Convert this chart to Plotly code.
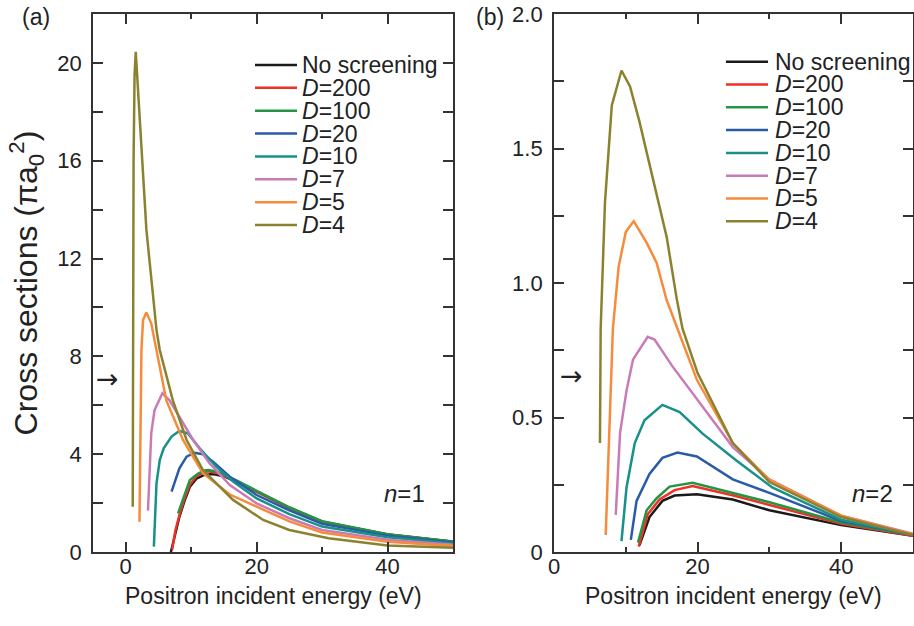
import plotly.graph_objects as go

W, H = 914, 626

labels = ["No screening", "<i>D</i>=200", "<i>D</i>=100", "<i>D</i>=20",
          "<i>D</i>=10", "<i>D</i>=7", "<i>D</i>=5", "<i>D</i>=4"]
colors = ["#1a1a1a", "#ee3124", "#259445", "#2b5ba8",
          "#17918a", "#c97bb8", "#f68b3c", "#8b8230"]

# ---------------- n = 1 (panel a) ----------------
e1_ns = [6.9, 7.6, 8.2, 9.0, 9.8, 10.8, 12.0, 13.3, 15.0, 17.0, 20, 25, 30, 40, 50]
s1_ns = [0.0, 0.75, 1.44, 2.1, 2.67, 3.0, 3.15, 3.19, 3.1, 2.85, 2.47, 1.8, 1.24, 0.72, 0.42]
e1_200 = [7.1, 7.6, 8.3, 9.0, 9.8, 10.8, 12.0, 12.6, 14.0, 15.0, 17.0, 20, 25, 30, 40, 50]
s1_200 = [0.1, 0.9, 1.6, 2.2, 2.75, 3.1, 3.28, 3.3, 3.22, 3.12, 2.88, 2.47, 1.8, 1.24, 0.72, 0.42]
e1_100 = [8.0, 8.5, 9.2, 9.8, 11.0, 12.0, 12.6, 14.0, 15.0, 17.0, 20, 25, 30, 40, 50]
s1_100 = [1.58, 2.0, 2.5, 2.94, 3.2, 3.33, 3.35, 3.28, 3.17, 2.92, 2.5, 1.83, 1.26, 0.73, 0.43]
e1_20 = [7.0, 8.2, 9.3, 10.5, 11.8, 13.3, 15.9, 20, 25, 30, 40, 50]
s1_20 = [2.47, 3.42, 3.9, 4.06, 4.0, 3.7, 3.08, 2.33, 1.7, 1.15, 0.67, 0.39]
e1_10 = [4.3, 4.7, 5.2, 5.8, 7.0, 8.2, 9.5, 11.3, 13.8, 16.4, 20, 25, 30, 40, 50]
s1_10 = [0.22, 2.8, 3.76, 4.24, 4.72, 4.95, 4.85, 4.24, 3.49, 2.88, 2.19, 1.55, 1.04, 0.6, 0.35]
e1_7 = [3.4, 3.56, 3.9, 4.4, 5.6, 6.7, 8.2, 10.3, 12.8, 15.9, 20, 25, 30, 40, 50]
s1_7 = [1.69, 2.8, 4.85, 5.8, 6.49, 6.2, 5.53, 4.58, 3.63, 2.74, 1.99, 1.38, 0.9, 0.5, 0.3]
e1_5 = [2.1, 2.3, 2.4, 2.65, 3.15, 3.9, 4.7, 6.2, 8.75, 11.8, 15.9, 20, 25, 30, 40, 50]
s1_5 = [1.24, 6.2, 8.26, 9.49, 9.79, 9.35, 8.26, 6.2, 4.58, 3.22, 2.35, 1.85, 1.25, 0.8, 0.42, 0.25]
e1_4 = [1.07, 1.1, 1.2, 1.35, 1.53, 3.16, 4.7, 5.2, 7.2, 9.3, 11.8, 16.4, 21, 25, 31, 40, 50]
s1_4 = [1.85, 10.0, 16.0, 19.5, 20.45, 13.17, 9.08, 8.26, 6.2, 4.58, 3.35, 2.13, 1.31, 0.9, 0.56, 0.27, 0.17]

# ---------------- n = 2 (panel b) ----------------
e2_ns = [11.9, 13.3, 15.1, 16.8, 19.9, 24.9, 30, 40, 50]
s2_ns = [0.025, 0.13, 0.19, 0.21, 0.215, 0.195, 0.155, 0.1, 0.06]
e2_200 = [11.8, 13.05, 14.7, 16.8, 19.3, 25, 30, 40, 50]
s2_200 = [0.02, 0.14, 0.195, 0.23, 0.245, 0.21, 0.175, 0.105, 0.06]
e2_100 = [11.7, 12.9, 14.3, 16.1, 19.3, 24.9, 30, 40, 50]
s2_100 = [0.035, 0.155, 0.2, 0.243, 0.257, 0.22, 0.185, 0.11, 0.063]
e2_20 = [10.7, 11.5, 13.3, 15.1, 17.2, 19.9, 24.9, 30, 40, 50]
s2_20 = [0.045, 0.19, 0.29, 0.35, 0.37, 0.355, 0.27, 0.22, 0.115, 0.065]
e2_10 = [9.4, 10.1, 11.25, 12.6, 15.1, 17.5, 20.7, 25.4, 30.4, 40, 50]
s2_10 = [0.04, 0.24, 0.405, 0.49, 0.547, 0.52, 0.44, 0.34, 0.24, 0.12, 0.065]
e2_7 = [8.6, 9.2, 10.1, 11.0, 13.05, 14.0, 16.5, 20.3, 24.9, 30, 40, 50]
s2_7 = [0.138, 0.443, 0.6, 0.715, 0.8, 0.79, 0.69, 0.555, 0.39, 0.27, 0.135, 0.068]
e2_5 = [7.2, 8.2, 9.0, 10.0, 11.1, 12.9, 14.3, 15.65, 17.2, 19.9, 24.9, 30, 40, 50]
s2_5 = [0.063, 0.83, 1.06, 1.19, 1.23, 1.15, 1.075, 0.94, 0.83, 0.64, 0.405, 0.268, 0.135, 0.065]
e2_4 = [6.4, 6.5, 7.1, 8.05, 9.4, 10.6, 11.9, 13.75, 15.7, 17.1, 17.9, 20, 24.9, 30, 40, 50]
s2_4 = [0.405, 0.83, 1.30, 1.66, 1.79, 1.73, 1.6, 1.39, 1.17, 0.94, 0.83, 0.665, 0.405, 0.26, 0.13, 0.063]

panel1 = [(e1_ns, s1_ns), (e1_200, s1_200), (e1_100, s1_100), (e1_20, s1_20),
          (e1_10, s1_10), (e1_7, s1_7), (e1_5, s1_5), (e1_4, s1_4)]
panel2 = [(e2_ns, s2_ns), (e2_200, s2_200), (e2_100, s2_100), (e2_20, s2_20),
          (e2_10, s2_10), (e2_7, s2_7), (e2_5, s2_5), (e2_4, s2_4)]

# y ticks
y1_ticks = [0, 2, 4, 6, 8, 10, 12, 14, 16, 18, 20, 22]
y1_text = ["0", " ", "4", " ", "8", " ", "12", " ", "16", " ", "20", " "]
y2_ticks = [0, 0.25, 0.5, 0.75, 1.0, 1.25, 1.5, 1.75, 2.0]
y2_text = ["0", " ", "0.5", " ", "1.0", " ", "1.5", " ", "2.0"]

x_title = "Positron incident energy (eV)"
y_title = "Cross sections (πa<sub>0</sub><sup>2</sup>)"

FONT = "Arial, Liberation Sans, sans-serif"
TXT = "#222222"
AX = "#333333"

# plot-area frame in pixels (both panels share top/bottom)
L, R, T, B = 93, 913, 14, 552
PW, PH = R - L, B - T

fig = go.Figure()
for i in range(8):
    fig.add_trace(go.Scatter(x=panel1[i][0], y=panel1[i][1], mode="lines",
                             line=dict(color=colors[i], width=2.5),
                             xaxis="x", yaxis="y", showlegend=False))
for i in range(8):
    fig.add_trace(go.Scatter(x=panel2[i][0], y=panel2[i][1], mode="lines",
                             line=dict(color=colors[i], width=2.5),
                             xaxis="x2", yaxis="y2", showlegend=False))


def px(x):
    return (x - L) / PW


def py(y):
    return (B - y) / PH


common_x = dict(showline=True, linecolor=AX, linewidth=1.8, mirror="ticks",
                ticks="inside", ticklen=10, tickwidth=1.5, tickcolor=AX,
                showgrid=False, zeroline=False, tick0=0, dtick=20, automargin=False,
                minor=dict(ticks="inside", ticklen=5, tickwidth=1.5, tickcolor=AX,
                           dtick=10, tick0=0, showgrid=False),
                tickfont=dict(family=FONT, size=22, color=TXT),
                ticklabelstandoff=-6)
common_y = dict(showline=True, linecolor=AX, linewidth=1.8, mirror="ticks",
                ticks="inside", ticklen=10, tickwidth=1.5, tickcolor=AX,
                showgrid=False, zeroline=False, tickmode="array", automargin=False,
                tickfont=dict(family=FONT, size=22, color=TXT),
                ticklabelstandoff=5)

fig.update_layout(
    width=W, height=H, margin=dict(l=L, r=W - R, t=T, b=H - B, pad=0),
    paper_bgcolor="white", plot_bgcolor="white", showlegend=False,
    xaxis=dict(domain=[0, px(453)], range=[-5, 50], anchor="y", **common_x),
    xaxis2=dict(domain=[px(554), 1], range=[0, 50], anchor="y2", **common_x),
    yaxis=dict(domain=[0, 1], range=[0, 22], anchor="x",
               tickvals=y1_ticks, ticktext=y1_text,
               title=dict(text=y_title,
                          font=dict(family=FONT, size=32, color=TXT), standoff=10),
               **common_y),
    yaxis2=dict(domain=[0, 1], range=[0, 2.0], anchor="x2",
                tickvals=y2_ticks, ticktext=y2_text, **common_y),
)

ann = []
shapes = []


def note(text, x, y, size, xref="paper", yref="paper", xanchor="center", family=FONT):
    if xref == "paper":
        x = px(x)
        y = py(y)
    ann.append(dict(text=text, x=x, y=y, xref=xref, yref=yref,
                    xanchor=xanchor, yanchor="middle", showarrow=False,
                    font=dict(family=family, size=size, color=TXT)))


# x-axis titles
note(x_title, 273, 596, 23)
note(x_title, 733, 596, 23)
# panel labels
note("(a)", 36, 17, 23)
note("(b)", 490, 17, 23)
note("<i>n</i>=1", 404, 493, 24)
note("<i>n</i>=2", 872, 493, 24)
# arrows marking reference values
note("→", -2.8, 7.1, 27, xref="x", yref="y", family="DejaVu Sans")
note("→", 2.4, 0.655, 27, xref="x2", yref="y2", family="DejaVu Sans")

# legends
for (lx0, lx1, tx, y0, dy) in [(255, 297, 300, 65, 22.86), (726, 768, 773, 61.7, 22.8)]:
    for i in range(8):
        yy = y0 + dy * i
        shapes.append(dict(type="line", xref="paper", yref="paper",
                           x0=px(lx0), x1=px(lx1), y0=py(yy), y1=py(yy),
                           line=dict(color=colors[i], width=2.5)))
        note(labels[i], tx, yy, 23, xanchor="left")

fig.update_layout(annotations=ann, shapes=shapes)
fig.write_html("out.html")
